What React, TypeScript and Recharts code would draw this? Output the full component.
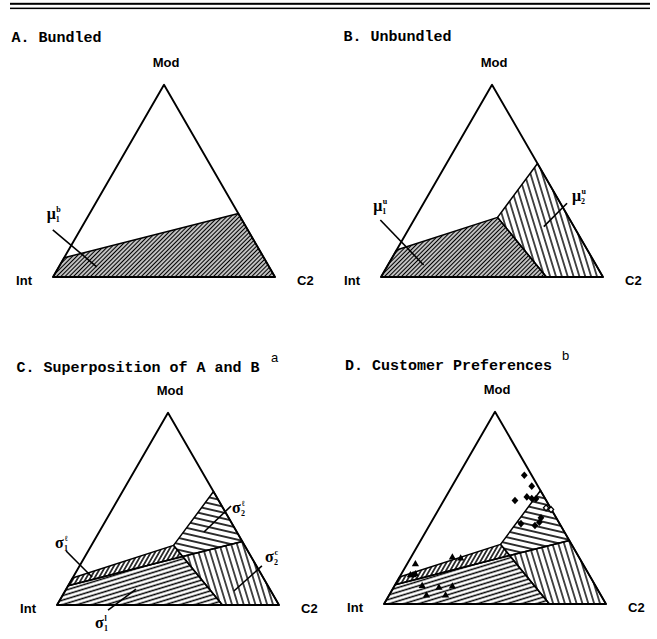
import React from 'react';
import { ScatterChart, Scatter, XAxis, YAxis } from 'recharts';

// every vertex is a ternary share pair [Mod, C2]; Int is whatever is left
type Tern = [number, number];

const cornerNames = ['Int', 'C2', 'Mod'];
const cornerShares: Tern[] = [[0, 0], [0, 1], [1, 0]];

// A. bundled
const bundledRegion: Tern[] = [[0, 0], [0.1, 0], [0.33, 0.67], [0, 1]];

// B. unbundled
const unbundledInt: Tern[] = [[0, 0], [0.14, 0], [0.31, 0.37], [0.19, 0.515], [0, 0.745]];
const unbundledC2: Tern[] = [[0.31, 0.37], [0.59, 0.41], [0, 1], [0, 0.745], [0.19, 0.515]];

// C / D. superposition
const sigma1Strip: Tern[] = [[0.1, 0], [0.14, 0], [0.31, 0.37], [0.252, 0.44]];
const sigma1Low: Tern[] = [[0, 0], [0.1, 0], [0.252, 0.44], [0.19, 0.515], [0, 0.745]];
const sigma2Up: Tern[] = [[0.31, 0.37], [0.59, 0.41], [0.33, 0.67], [0.252, 0.44]];
const sigma2Low: Tern[] = [[0.252, 0.44], [0.33, 0.67], [0, 1], [0, 0.745], [0.19, 0.515]];

// D. customer preferences
const triangleCustomers: Tern[] = [
  [0.209, 0.037], [0.244, 0.186], [0.239, 0.226], [0.152, 0.043], [0.152, 0.055], [0.157, 0.063],
  [0.096, 0.124], [0.087, 0.204], [0.094, 0.261], [0.047, 0.168], [0.047, 0.254],
];
const diamondCustomers: Tern[] = [
  [0.67, 0.297], [0.613, 0.359], [0.538, 0.321], [0.557, 0.365], [0.549, 0.391], [0.547, 0.411],
  [0.448, 0.483], [0.425, 0.4875], [0.418, 0.408], [0.408, 0.476],
];
const openDiamondCustomers: Tern[] = [[0.5, 0.48], [0.491, 0.507]];

const W = 326;
const H = 311;
const SCALE = 222;
const INT_X = 53;
const BASE_Y = 277;

const toXY = ([mod, c2]: Tern) => ({ x: c2 + mod / 2, y: (mod * Math.sqrt(3)) / 2 });

const xDomain = [-INT_X / SCALE, (W - INT_X) / SCALE];
const yDomain = [-(H - BASE_Y) / SCALE, BASE_Y / SCALE];

const noDot = () => <g />;

const polygonLine = (fill: string, width = 1.5) => (props: any) => {
  const pts = (props.points || []).map((p: any) => `${p.x},${p.y}`).join(' ');
  return <polygon points={pts} fill={fill} stroke="#000" strokeWidth={width} strokeLinejoin="round" />;
};

const segLine = (props: any) => {
  const pts = (props.points || []).map((p: any) => `${p.x},${p.y}`).join(' ');
  return <polyline points={pts} fill="none" stroke="#000" strokeWidth={1.6} />;
};

const cornerStyle: Record<string, { dx: number; dy: number; anchor: 'start' | 'middle' | 'end' }> = {
  Int: { dx: -21, dy: 8, anchor: 'end' },
  C2: { dx: 22, dy: 8, anchor: 'start' },
  Mod: { dx: 2, dy: -18, anchor: 'middle' },
};

const CornerLabel = (p: any) => {
  const name = p.payload?.name;
  const s = cornerStyle[name];
  if (!s) return <g />;
  return (
    <text x={p.cx + s.dx} y={p.cy + s.dy} textAnchor={s.anchor} fontFamily="Liberation Sans, Arial" fontWeight={700} fontSize={13} fill="#000">
      {name}
    </text>
  );
};

const GreekLabel = (p: any) => {
  const d = p.payload;
  if (!d || !d.main) return <g />;
  const x = p.cx + d.dx;
  const y = p.cy + d.dy;
  return (
    <g fontFamily="Liberation Serif, DejaVu Serif, serif" fill="#000">
      <text x={x} y={y} fontSize={16} fontWeight={700}>{d.main}</text>
      <text x={x + 9.5} y={y - 7} fontSize={8} fontWeight={700}>{d.sup}</text>
      <text x={x + 9} y={y + 3} fontSize={8} fontWeight={700}>{d.sub}</text>
    </g>
  );
};

const Triangle = (p: any) => (
  <polygon points={`${p.cx},${p.cy - 3.8} ${p.cx + 3.6},${p.cy + 2.5} ${p.cx - 3.6},${p.cy + 2.5}`} fill="#000" />
);
const Diamond = (p: any) => (
  <polygon points={`${p.cx},${p.cy - 3.8} ${p.cx + 3.4},${p.cy} ${p.cx},${p.cy + 3.8} ${p.cx - 3.4},${p.cy}`} fill="#000" />
);
const OpenDiamond = (p: any) => (
  <polygon points={`${p.cx},${p.cy - 3} ${p.cx + 2.6},${p.cy} ${p.cx},${p.cy + 3} ${p.cx - 2.6},${p.cy}`} fill="#fff" stroke="#000" strokeWidth={1.3} />
);

type Region = { pts: Tern[]; fill: string };
type Pointer = { from: { x: number; y: number }; to: { x: number; y: number }; main: string; sup: string; sub: string; dx: number; dy: number };

function Panel({ left, top, regions, pointers = [], markers = false }: { left: number; top: number; regions: Region[]; pointers?: Pointer[]; markers?: boolean }) {
  const corners = cornerShares.map((t, i) => ({ ...toXY(t), name: cornerNames[i] }));
  return (
    <div style={{ position: 'absolute', left, top }}>
      <ScatterChart width={W} height={H} margin={{ top: 0, right: 0, bottom: 0, left: 0 }}>
        <XAxis type="number" dataKey="x" domain={xDomain} hide allowDataOverflow />
        <YAxis type="number" dataKey="y" domain={yDomain} hide allowDataOverflow />
        {regions.map((r, i) => (
          <Scatter key={'r' + i} data={r.pts.map(toXY)} line={polygonLine(r.fill)} lineType="joint" shape={noDot} isAnimationActive={false} />
        ))}
        <Scatter data={corners} line={polygonLine('none', 1.9)} lineType="joint" shape={CornerLabel} isAnimationActive={false} />
        {pointers.map((p, i) => (
          <Scatter
            key={'p' + i}
            data={[{ ...p.from, main: p.main, sup: p.sup, sub: p.sub, dx: p.dx, dy: p.dy }, p.to]}
            line={segLine}
            lineType="joint"
            shape={GreekLabel}
            isAnimationActive={false}
          />
        ))}
        {markers && <Scatter data={triangleCustomers.map(toXY)} shape={Triangle} isAnimationActive={false} />}
        {markers && <Scatter data={diamondCustomers.map(toXY)} shape={Diamond} isAnimationActive={false} />}
        {markers && <Scatter data={openDiamondCustomers.map(toXY)} shape={OpenDiamond} isAnimationActive={false} />}
      </ScatterChart>
    </div>
  );
}

const hatch = (id: string, angle: number, gap: number, w = 1.4) => (
  <pattern id={id} patternUnits="userSpaceOnUse" width={gap} height={gap} patternTransform={`rotate(${angle})`}>
    <line x1={-1} y1={gap / 2} x2={gap + 1} y2={gap / 2} stroke="#000" strokeWidth={w} />
  </pattern>
);

const titleFont = { fontFamily: 'Liberation Mono, Courier New, monospace', fontWeight: 700, fontSize: 15 };

export default function App() {
  const superRegions: Region[] = [
    { pts: sigma1Low, fill: 'url(#hShallow)' },
    { pts: sigma1Strip, fill: 'url(#hSteepUp)' },
    { pts: sigma2Up, fill: 'url(#hFlat)' },
    { pts: sigma2Low, fill: 'url(#hSteep)' },
  ];
  return (
    <div style={{ position: 'absolute', left: 0, top: 0, width: 657, height: 639, background: '#fff', overflow: 'hidden' }}>
      <svg width={0} height={0} style={{ position: 'absolute' }}>
        <defs>
          {hatch('hDiag', -45, 3, 1.5)}
          {hatch('hSteep', 73, 5.6)}
          {hatch('hSteepUp', -60, 3.6, 1.5)}
          {hatch('hShallow', -17, 4.3, 1.5)}
          {hatch('hFlat', 13, 5.8, 1.6)}
        </defs>
      </svg>

      <Panel
        left={0}
        top={0}
        regions={[{ pts: bundledRegion, fill: 'url(#hDiag)' }]}
        pointers={[{ from: { x: -0.001, y: 0.212 }, to: { x: 0.197, y: 0.046 }, main: 'μ', sup: 'b', sub: '1', dx: -6, dy: -11 }]}
      />
      <Panel
        left={328}
        top={0}
        regions={[
          { pts: unbundledInt, fill: 'url(#hDiag)' },
          { pts: unbundledC2, fill: 'url(#hSteep)' },
        ]}
        pointers={[
          { from: { x: -0.003, y: 0.257 }, to: { x: 0.192, y: 0.054 }, main: 'μ', sup: 'u', sub: '1', dx: -7, dy: -9 },
          { from: { x: 0.838, y: 0.332 }, to: { x: 0.733, y: 0.227 }, main: 'μ', sup: 'u', sub: '2', dx: 5, dy: -2 },
        ]}
      />
      <Panel
        left={4}
        top={328}
        regions={superRegions}
        pointers={[
          { from: { x: 0.041, y: 0.243 }, to: { x: 0.158, y: 0.126 }, main: 'σ', sup: 'ℓ', sub: '1', dx: -11, dy: -3 },
          { from: { x: 0.23, y: -0.023 }, to: { x: 0.356, y: 0.072 }, main: 'σ', sup: 'l', sub: '1', dx: -13, dy: 18 },
          { from: { x: 0.784, y: 0.446 }, to: { x: 0.662, y: 0.329 }, main: 'σ', sup: 'ℓ', sub: '2', dx: 1, dy: 7 },
          { from: { x: 0.923, y: 0.176 }, to: { x: 0.797, y: 0.063 }, main: 'σ', sup: 'c', sub: '2', dx: 3, dy: -4 },
        ]}
      />
      <Panel left={331} top={327} regions={superRegions} markers />

      <svg width={657} height={639} style={{ position: 'absolute', left: 0, top: 0, pointerEvents: 'none' }}>
        <rect x={10} y={2.8} width={640} height={2} fill="#000" />
        <rect x={10} y={7.6} width={640} height={1.5} fill="#000" />
        <text x={11.5} y={42} {...titleFont}>A. Bundled</text>
        <text x={343.5} y={41} {...titleFont}>B. Unbundled</text>
        <text x={16.5} y={372} {...titleFont}>C. Superposition of A and B</text>
        <text x={271} y={362} fontFamily="Liberation Sans, Arial" fontSize={13}>a</text>
        <text x={345} y={370} {...titleFont}>D. Customer Preferences</text>
        <text x={562} y={360} fontFamily="Liberation Sans, Arial" fontSize={13}>b</text>
      </svg>
    </div>
  );
}
